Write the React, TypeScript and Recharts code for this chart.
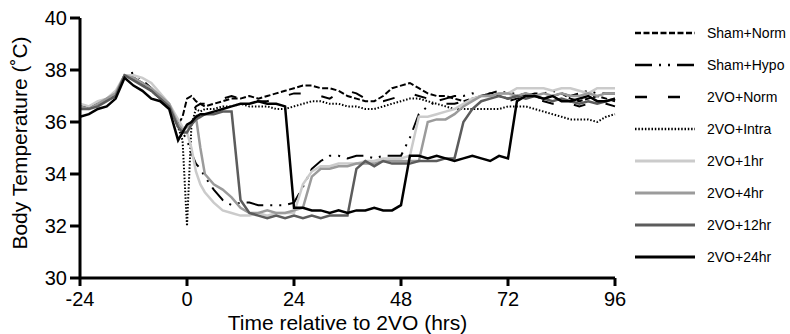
import { LineChart, Line, XAxis, YAxis, Legend, Label } from 'recharts'

// time axis (hrs relative to 2VO), denser around the surgery
const hours = [
  -24, -22, -20, -18, -16, -14, -12, -10, -8, -6, -4,
  -3, -2, -1, 0, 1, 2, 3, 4,
  6, 8, 10, 12, 14, 16, 18, 20, 22, 24,
  26, 28, 30, 32, 34, 36, 38, 40, 42, 44,
  46, 48, 50, 52, 54, 56, 58, 60, 62, 64,
  66, 68, 70, 72, 74, 76, 78, 80, 82, 84,
  86, 88, 90, 92, 94, 96,
]

const shamNorm = [
  36.6, 36.6, 36.7, 36.9, 37.1, 37.8, 37.7, 37.5, 37.2, 36.9, 36.6,
  36.2, 35.9, 36.2, 36.9, 37.0, 36.8, 36.7, 36.6,
  36.7, 36.8, 36.9, 36.9, 37.0, 36.9, 37.0, 37.1, 37.2, 37.3,
  37.4, 37.4, 37.3, 37.3, 37.2, 37.0, 36.9, 36.8, 36.8, 37.0,
  37.3, 37.4, 37.5, 37.3, 37.1, 37.0, 37.0, 36.9, 36.8, 36.9,
  37.0, 37.1, 37.0, 36.9, 37.0, 37.1, 37.0, 36.9, 37.0, 37.1,
  36.9, 36.8, 36.9, 37.0, 36.9, 36.8,
]

const shamHypo = [
  36.6, 36.6, 36.7, 36.9, 37.1, 37.8, 37.9, 37.6, 37.3, 36.9, 36.6,
  36.3, 35.9, 35.6, 35.3, 34.8, 34.4, 34.2, 33.9,
  33.4, 33.0, 32.8, 32.9, 32.9, 32.8, 32.8, 32.8, 32.8, 32.9,
  33.5, 34.2, 34.5, 34.7, 34.7, 34.6, 34.7, 34.7, 34.6, 34.7,
  34.7, 34.7, 35.4, 36.3, 36.6, 36.8, 36.9, 37.0, 37.0, 37.1,
  37.0, 37.1, 37.2, 37.1, 37.1, 37.0, 37.1, 37.1, 37.2, 37.1,
  37.0, 37.1, 37.2, 37.1, 37.1, 37.1,
]

const voNorm = [
  36.5, 36.6, 36.7, 36.8, 37.0, 37.7, 37.7, 37.5, 37.2, 36.9, 36.6,
  36.2, 35.9, 35.7, 35.9, 36.3, 36.6, 36.7, 36.7,
  36.8, 36.9, 37.0, 36.9, 36.9, 36.8, 36.8, 36.9, 37.0, 37.1,
  37.1, 37.0, 37.0, 36.9, 37.1, 37.2, 37.1, 36.9, 36.8, 36.8,
  36.9, 37.0, 37.1, 37.0, 36.9, 36.8, 36.7, 36.7, 36.8, 36.9,
  37.0, 37.0, 36.9, 36.8, 36.9, 37.0, 36.9, 36.8, 36.7, 36.8,
  36.7, 36.6, 36.7, 36.8, 36.7, 36.6,
]

const voIntra = [
  36.6, 36.6, 36.7, 36.9, 37.1, 37.8, 37.7, 37.5, 37.2, 36.9, 36.6,
  36.2, 35.8, 35.3, 32.0, 35.9, 36.5, 36.4, 36.5,
  36.5, 36.6, 36.6, 36.7, 36.6, 36.6, 36.6, 36.5, 36.5, 36.6,
  36.7, 36.8, 36.8, 36.7, 36.7, 36.6, 36.6, 36.5, 36.5, 36.6,
  36.7, 36.8, 36.9, 36.9, 36.8, 36.7, 36.6, 36.5, 36.5, 36.5,
  36.5, 36.5, 36.5, 36.6, 36.6, 36.6, 36.5, 36.4, 36.3, 36.2,
  36.1, 36.1, 36.1, 36.0, 36.2, 36.3,
]

const vo1hr = [
  36.7, 36.6, 36.8, 36.9, 37.2, 37.8, 37.8, 37.7, 37.5, 37.1, 36.7,
  36.4, 36.1, 35.8, 35.6, 35.0, 34.1, 33.6, 33.3,
  32.9, 32.6, 32.5, 32.4, 32.4, 32.5, 32.4, 32.5, 32.5, 32.5,
  33.6, 34.1, 34.3, 34.3, 34.4, 34.4, 34.4, 34.5, 34.5, 34.6,
  34.6, 34.6, 34.7, 36.2, 36.2, 36.3, 36.4, 36.5, 36.7, 36.9,
  37.0, 37.0, 37.1, 37.1, 37.3, 37.3, 37.3, 37.3, 37.2, 37.3,
  37.3, 37.2, 37.1, 37.3, 37.3, 37.3,
]

const vo4hr = [
  36.6, 36.5, 36.7, 36.9, 37.1, 37.8, 37.7, 37.5, 37.3, 37.0, 36.7,
  36.3, 35.9, 35.7, 35.8, 36.0, 36.2, 35.0, 34.0,
  33.6, 33.4, 33.1, 32.7, 32.5, 32.5, 32.6, 32.5, 32.5, 32.6,
  32.7, 33.9, 34.2, 34.2, 34.3, 34.3, 34.4, 34.4, 34.4, 34.5,
  34.5, 34.5, 34.5, 34.5, 36.0, 36.1, 36.1, 36.3, 36.6, 36.8,
  37.0, 37.0, 37.1, 37.1, 37.0, 37.1, 37.0, 37.1, 37.0, 37.1,
  37.0, 37.0, 37.1, 37.0, 37.1, 37.1,
]

const vo12hr = [
  36.5, 36.5, 36.6, 36.8, 37.0, 37.8, 37.6, 37.4, 37.2, 36.9, 36.6,
  36.2, 35.8, 35.6, 35.6, 35.9, 36.1, 36.2, 36.3,
  36.3, 36.4, 36.4, 33.0, 32.5, 32.4, 32.3, 32.4, 32.3, 32.4,
  32.3, 32.4, 32.3, 32.4, 32.4, 32.4, 34.2, 34.5, 34.3, 34.5,
  34.4, 34.4, 34.4, 34.5, 34.5, 34.5, 34.6, 34.6, 36.0, 36.5,
  36.8, 36.9, 37.0, 36.9, 37.0, 36.9, 37.0, 36.9, 36.8, 36.9,
  36.8, 36.7, 36.8, 36.7, 36.8, 36.9,
]

const vo24hr = [
  36.2, 36.3, 36.5, 36.6, 36.9, 37.7, 37.4, 37.2, 36.9, 36.8, 36.5,
  35.9, 35.3, 35.6, 35.9, 36.0, 36.2, 36.3, 36.3,
  36.4, 36.5, 36.6, 36.7, 36.7, 36.8, 36.7, 36.7, 36.6, 32.7,
  32.7, 32.6, 32.6, 32.5, 32.6, 32.5, 32.6, 32.6, 32.7, 32.6,
  32.6, 32.8, 34.7, 34.7, 34.6, 34.7, 34.6, 34.5, 34.6, 34.7,
  34.6, 34.5, 34.7, 34.6, 36.8, 37.0, 37.0, 36.9, 37.0, 36.8,
  36.8, 36.9, 37.0, 36.8, 36.8, 36.9,
]

const xTicks = [-24, 0, 24, 48, 72, 96]
const yTicks = [30, 32, 34, 36, 38, 40]

type Series = {
  key: string
  name: string
  values: number[]
  color: string
  width: number
  dash?: string
}

const SERIES: Series[] = [
  { key: 'shamNorm', name: 'Sham+Norm', values: shamNorm, color: '#000', width: 2, dash: '6 2.5' },
  { key: 'shamHypo', name: 'Sham+Hypo', values: shamHypo, color: '#000', width: 2, dash: '17 7 2 7 2 7' },
  { key: 'voNorm', name: '2VO+Norm', values: voNorm, color: '#000', width: 2, dash: '12 21' },
  { key: 'voIntra', name: '2VO+Intra', values: voIntra, color: '#000', width: 2, dash: '1.5 1.8' },
  { key: 'vo1hr', name: '2VO+1hr', values: vo1hr, color: '#cbcbcb', width: 2.5 },
  { key: 'vo4hr', name: '2VO+4hr', values: vo4hr, color: '#9b9b9b', width: 2.5 },
  { key: 'vo12hr', name: '2VO+12hr', values: vo12hr, color: '#5c5c5c', width: 2.5 },
  { key: 'vo24hr', name: '2VO+24hr', values: vo24hr, color: '#000', width: 2.5 },
]

const data = hours.map((h, i) => {
  const row: Record<string, number> = { h }
  for (const s of SERIES) row[s.key] = s.values[i]
  return row
})

function LegendBox() {
  return (
    <svg width={172} height={275} style={{ display: 'block', overflow: 'visible' }}>
      {SERIES.map((s, i) => {
        const y = 33 + i * 32
        return (
          <g key={s.key}>
            <line x1={20} x2={80} y1={y} y2={y} stroke={s.color} strokeWidth={s.width + 0.5} strokeDasharray={s.dash} />
            <text x={92} y={y} dy="0.35em" fontSize={14} fill="#000">
              {s.name}
            </text>
          </g>
        )
      })}
    </svg>
  )
}

const axisLine = { stroke: '#000', strokeWidth: 3 }
const tickLine = { stroke: '#000', strokeWidth: 3 }
const tick = { fill: '#000', fontSize: 20 }

export default function App() {
  return (
    <div style={{ position: 'absolute', left: 0, top: 0, fontFamily: '"Liberation Sans", Arial, sans-serif' }}>
      <LineChart width={790} height={334} data={data} margin={{ top: 18, right: 3, left: 10, bottom: 4 }}>
        <XAxis
          dataKey="h"
          type="number"
          domain={[-24, 96]}
          ticks={xTicks}
          height={52}
          tickSize={8}
          tickMargin={6}
          axisLine={axisLine}
          tickLine={tickLine}
          tick={tick}
        >
          <Label
            content={(props: any) => {
              const vb = props.viewBox || { x: 80, y: 278, width: 535, height: 52 }
              return (
                <text x={vb.x + vb.width / 2} y={vb.y + vb.height} textAnchor="middle" fontSize={21} fill="#000">
                  Time relative to 2VO (hrs)
                </text>
              )
            }}
          />
        </XAxis>
        <YAxis
          type="number"
          domain={[30, 40]}
          ticks={yTicks}
          width={70}
          tickSize={10}
          tickMargin={3}
          axisLine={axisLine}
          tickLine={tickLine}
          tick={tick}
        >
          <Label
            content={(props: any) => {
              const vb = props.viewBox || { x: 10, y: 18, width: 70, height: 260 }
              const x = vb.x + 17
              const y = vb.y + vb.height / 2 - 5
              return (
                <text x={x} y={y} transform={`rotate(-90 ${x} ${y})`} textAnchor="middle" fontSize={21} fill="#000">
                  Body Temperature (˚C)
                </text>
              )
            }}
          />
        </YAxis>
        <Legend
          layout="vertical"
          align="right"
          verticalAlign="top"
          wrapperStyle={{ top: 0 }}
          content={() => <LegendBox />}
        />
        {SERIES.map(s => (
          <Line
            key={s.key}
            type="linear"
            dataKey={s.key}
            name={s.name}
            stroke={s.color}
            strokeWidth={s.width}
            strokeDasharray={s.dash}
            dot={false}
            activeDot={false}
            isAnimationActive={false}
          />
        ))}
      </LineChart>
    </div>
  )
}
